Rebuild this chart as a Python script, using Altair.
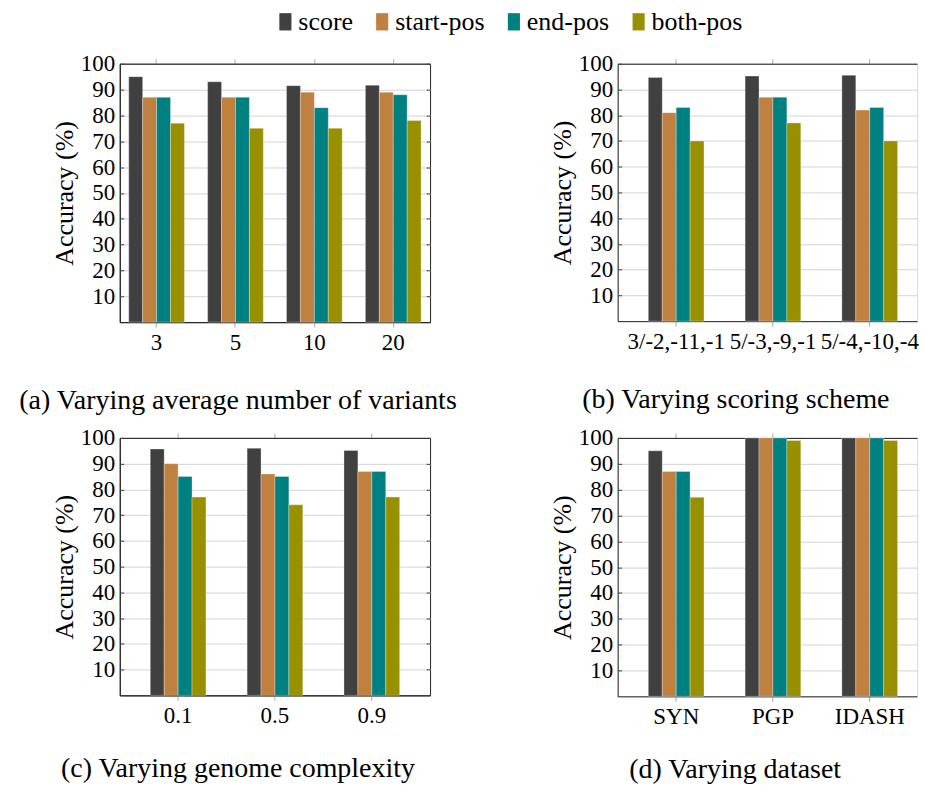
import altair as alt
import pandas as pd

FONT = "Liberation Serif, DejaVu Serif, serif"

series = ["score", "start-pos", "end-pos", "both-pos"]
colors = ["#404040", "#bf8040", "#008080", "#999000"]
y_ticks = [10, 20, 30, 40, 50, 60, 70, 80, 90, 100]

a_cats = ["3", "5", "10", "20"]
a_score = [95, 93, 91.5, 91.7]
a_start = [87, 87, 89, 89]
a_end = [87, 87, 83, 88]
a_both = [77, 75, 75, 78]

b_cats = ["3/-2,-11,-1", "5/-3,-9,-1", "5/-4,-10,-4"]
b_score = [94.7, 95.2, 95.5]
b_start = [81, 87, 82]
b_end = [83, 87, 83]
b_both = [70, 77, 70]

c_cats = ["0.1", "0.5", "0.9"]
c_score = [95.7, 96, 95.1]
c_start = [90, 86, 87]
c_end = [85, 85, 87]
c_both = [77, 74, 77]

d_cats = ["SYN", "PGP", "IDASH"]
d_score = [95, 100, 100]
d_start = [87, 100, 100]
d_end = [87, 100, 100]
d_both = [77, 99, 99]

captions = [
    "(a) Varying average number of variants",
    "(b) Varying scoring scheme",
    "(c) Varying genome complexity",
    "(d) Varying dataset",
]

LEGEND = alt.Legend(
    orient="none", legendX=153, legendY=-55, direction="horizontal", title=None,
    symbolType="M-0.7,-1H0.7V1H-0.7Z", symbolSize=300, symbolStrokeWidth=0,
    symbolOpacity=1, labelFont=FONT, labelFontSize=26, labelColor="black",
    labelOffset=0, columnPadding=16,
)


def make_df(cats, score, start, end, both):
    rows = []
    for i, c in enumerate(cats):
        for s, vals in zip(series, [score, start, end, both]):
            rows.append({"cat": c, "series": s, "val": vals[i]})
    return pd.DataFrame(rows)


def panel(cats, vals, caption, width, height, p_inner, p_outer, align, full_frame,
          cap_offset, cap_dx):
    df = make_df(cats, *vals)
    base = alt.Chart(df)
    xscale = alt.Scale(paddingInner=p_inner, paddingOuter=p_outer, align=align)
    yscale = alt.Scale(domain=[0, 100], nice=False)
    bars = base.mark_bar(stroke="white", strokeWidth=0.6, strokeOpacity=0.5).encode(
        x=alt.X("cat:N", sort=cats, scale=xscale, axis=alt.Axis(
            orient="bottom", title=None, labelAngle=0, labelFont=FONT, labelFontSize=23,
            labelColor="black", labelPadding=4, labelOverlap=False, ticks=True,
            tickColor="#a8a8a8", tickSize=5, domain=True, domainColor="#222222",
            grid=False)),
        xOffset=alt.XOffset("series:N", sort=series,
                            scale=alt.Scale(paddingInner=0, paddingOuter=0)),
        y=alt.Y("val:Q", scale=yscale, stack=None, axis=alt.Axis(
            orient="left", title="Accuracy (%)", values=y_ticks, titleFont=FONT,
            titleFontSize=26, titleFontWeight="normal", titleColor="black",
            titlePadding=3, labelFont=FONT, labelFontSize=23, labelColor="black",
            labelPadding=5, ticks=False, tickSize=0, domain=True,
            domainColor="#222222", grid=True, gridColor="#d4d4d4", gridWidth=1)),
        color=alt.Color("series:N", sort=series,
                        scale=alt.Scale(domain=series, range=colors), legend=LEGEND),
    )
    right_axis = alt.Axis(
        orient="right", title=None, labels=False, values=y_ticks, ticks=True,
        tickSize=4, tickColor="#404040", offset=-4, domain=False, grid=False)
    top_right = base.mark_point(opacity=0).encode(
        x=alt.X("cat:N", sort=cats, scale=xscale, axis=alt.Axis(
            orient="top", title=None, labels=False, ticks=True, tickColor="#a8a8a8",
            tickSize=5, domain=True, domainColor="#222222", grid=False)),
        y=alt.Y("val:Q", scale=yscale, axis=right_axis if full_frame else None),
    )
    left_ticks = base.mark_point(opacity=0).encode(
        x=alt.X("cat:N", sort=cats, scale=xscale, axis=None),
        y=alt.Y("val:Q", scale=yscale, axis=alt.Axis(
            orient="left", title=None, labels=False, values=y_ticks, ticks=True,
            tickSize=4, tickColor="#404040", offset=-4, domain=False, grid=False)),
    )
    props = dict(
        width=width, height=height,
        title=alt.TitleParams(caption, orient="bottom", anchor="middle", frame="bounds",
                              font=FONT, fontSize=28, fontWeight="normal",
                              color="black", offset=cap_offset, dx=cap_dx),
    )
    if full_frame:
        props["view"] = alt.ViewBackground(stroke="#222222", strokeWidth=1)
    return alt.layer(bars, top_right, left_ticks).resolve_axis(
        x="independent", y="independent").properties(**props)


pa = panel(a_cats, [a_score, a_start, a_end, a_both], captions[0], 311, 259,
           0.294, 0.114, 0.5, True, 33, -3)
pb = panel(b_cats, [b_score, b_start, b_end, b_both], captions[1], 300, 258,
           0.423, 0.258, 0.614, False, 33, 2)
pc = panel(c_cats, [c_score, c_start, c_end, c_both], captions[2], 311, 258,
           0.426, 0.315, 0.5, True, 28, -3)
pd_ = panel(d_cats, [d_score, d_start, d_end, d_both], captions[3], 300, 259,
            0.423, 0.258, 0.614, False, 28, 2)

chart = alt.concat(pa, pb, pc, pd_, columns=2,
                   spacing={"row": 116, "column": 188}).properties(
    bounds="flush", padding={"left": 10, "top": 0, "right": 0, "bottom": 0}
).configure_view(stroke=None).configure(font=FONT)

chart.save("out.html", embed_options={"renderer": "svg", "actions": False})
